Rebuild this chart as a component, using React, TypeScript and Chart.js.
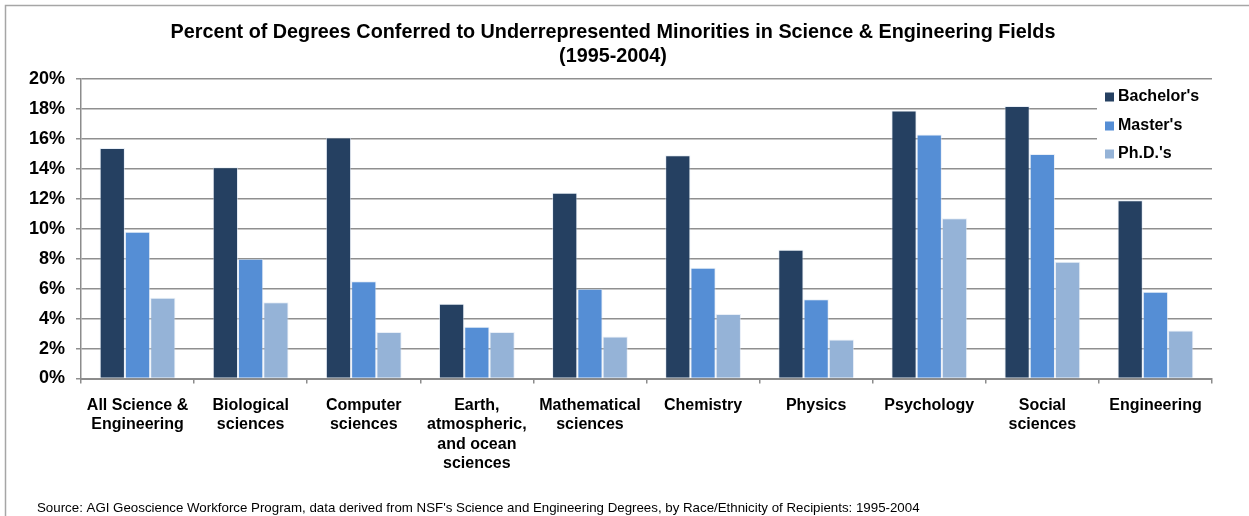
import React, { useEffect, useRef } from "react";
import { Chart, registerables } from "chart.js";

Chart.register(...registerables);

const categories: (string | string[])[] = [
  ["All Science &", "Engineering"],
  ["Biological", "sciences"],
  ["Computer", "sciences"],
  ["Earth,", "atmospheric,", "and ocean", "sciences"],
  ["Mathematical", "sciences"],
  "Chemistry",
  "Physics",
  "Psychology",
  ["Social", "sciences"],
  "Engineering",
];

const seriesNames = ["Bachelor's", "Master's", "Ph.D.'s"];
const bachelors = [15.4, 14.1, 16.1, 5.0, 12.4, 14.9, 8.6, 17.9, 18.2, 11.9];
const masters = [9.8, 8.0, 6.5, 3.45, 6.0, 7.4, 5.3, 16.3, 15.0, 5.8];
const phds = [5.4, 5.1, 3.1, 3.1, 2.8, 4.3, 2.6, 10.7, 7.8, 3.2];

const yMin = 0;
const yMax = 20;
const yStep = 2;

const titleLines = [
  "Percent of Degrees Conferred to Underrepresented Minorities in Science & Engineering Fields",
  "(1995-2004)",
];
const sourceText =
  "Source: AGI Geoscience Workforce Program, data derived from NSF's Science and Engineering Degrees, by Race/Ethnicity of Recipients: 1995-2004";

const colors = ["#254061", "#558ED5", "#95B3D7"];
const FONT = "'Liberation Sans', Arial, Helvetica, sans-serif";

const decorPlugin = {
  id: "decor",
  beforeDraw(chart: any) {
    const ctx = chart.ctx;
    ctx.save();
    ctx.fillStyle = "#ffffff";
    ctx.fillRect(0, 0, chart.width, chart.height);
    ctx.strokeStyle = "#a6a6a6";
    ctx.lineWidth = 1.5;
    ctx.beginPath();
    ctx.moveTo(5.5, chart.height);
    ctx.lineTo(5.5, 5.5);
    ctx.lineTo(chart.width, 5.5);
    ctx.stroke();
    ctx.restore();
  },
  afterDraw(chart: any) {
    const ctx = chart.ctx;
    const area = chart.chartArea;
    ctx.save();
    // title
    ctx.fillStyle = "#000000";
    ctx.font = `bold 19.8px ${FONT}`;
    ctx.textAlign = "center";
    ctx.textBaseline = "middle";
    ctx.fillText(titleLines[0], 613, 33);
    ctx.fillText(titleLines[1], 613, 57);

    // legend (inside plot area, on white)
    const lx = 1097;
    ctx.fillStyle = "#ffffff";
    ctx.fillRect(lx, area.top + 2, area.right - lx, 87);
    ctx.font = `bold 16px ${FONT}`;
    ctx.textAlign = "left";
    ctx.textBaseline = "middle";
    const ys = [97, 126, 154];
    seriesNames.forEach((name, i) => {
      ctx.fillStyle = colors[i];
      ctx.fillRect(1105, ys[i] - 4.5, 9, 9);
      ctx.fillStyle = "#000000";
      ctx.fillText(name, 1118, ys[i]);
    });

    // source
    ctx.font = `13.3px ${FONT}`;
    ctx.fillStyle = "#000000";
    ctx.textBaseline = "middle";
    ctx.fillText(sourceText, 37, 508);
    ctx.restore();
  },
};

export default function App() {
  const ref = useRef<HTMLCanvasElement | null>(null);

  useEffect(() => {
    if (!ref.current) return;
    const series = [bachelors, masters, phds];
    const chart = new Chart(ref.current, {
      type: "bar",
      data: {
        labels: categories,
        datasets: series.map((d, i) => ({
          label: seriesNames[i],
          data: d,
          backgroundColor: colors[i],
          borderColor: "rgba(215,225,240,0.55)",
          borderWidth: 1,
          categoryPercentage: 0.67,
          barPercentage: 1.0,
        })),
      },
      options: {
        responsive: false,
        animation: false,
        layout: { padding: { left: 0, right: 37, top: 79, bottom: 0 } },
        plugins: {
          legend: { display: false },
          title: { display: false },
          tooltip: { enabled: false },
        },
        scales: {
          x: {
            afterFit: (s: any) => {
              s.height = 137.5;
            },
            grid: {
              display: true,
              drawOnChartArea: false,
              drawTicks: true,
              tickLength: 5,
              color: "#8c8c8c",
              lineWidth: 1.5,
            },
            border: { display: true, color: "#8c8c8c", width: 2 },
            ticks: {
              color: "#000000",
              padding: 12,
              maxRotation: 0,
              autoSkip: false,
              font: { family: FONT, size: 16, weight: "bold", lineHeight: 1.22 },
            },
          },
          y: {
            min: yMin,
            max: yMax,
            afterFit: (s: any) => {
              s.width = 81;
            },
            ticks: {
              stepSize: yStep,
              color: "#000000",
              padding: 11,
              callback: (v: any) => `${v}%`,
              font: { family: FONT, size: 18, weight: "bold" },
            },
            grid: {
              color: "#8f8f8f",
              lineWidth: 1.5,
              tickLength: 5,
            },
            border: { display: true, color: "#8c8c8c", width: 1.5 },
          },
        },
      },
      plugins: [decorPlugin],
    });
    return () => chart.destroy();
  }, []);

  return (
    <div style={{ position: "absolute", left: 0, top: 0, width: 1249, height: 516 }}>
      <canvas ref={ref} width={1249} height={516} style={{ display: "block" }} />
    </div>
  );
}
